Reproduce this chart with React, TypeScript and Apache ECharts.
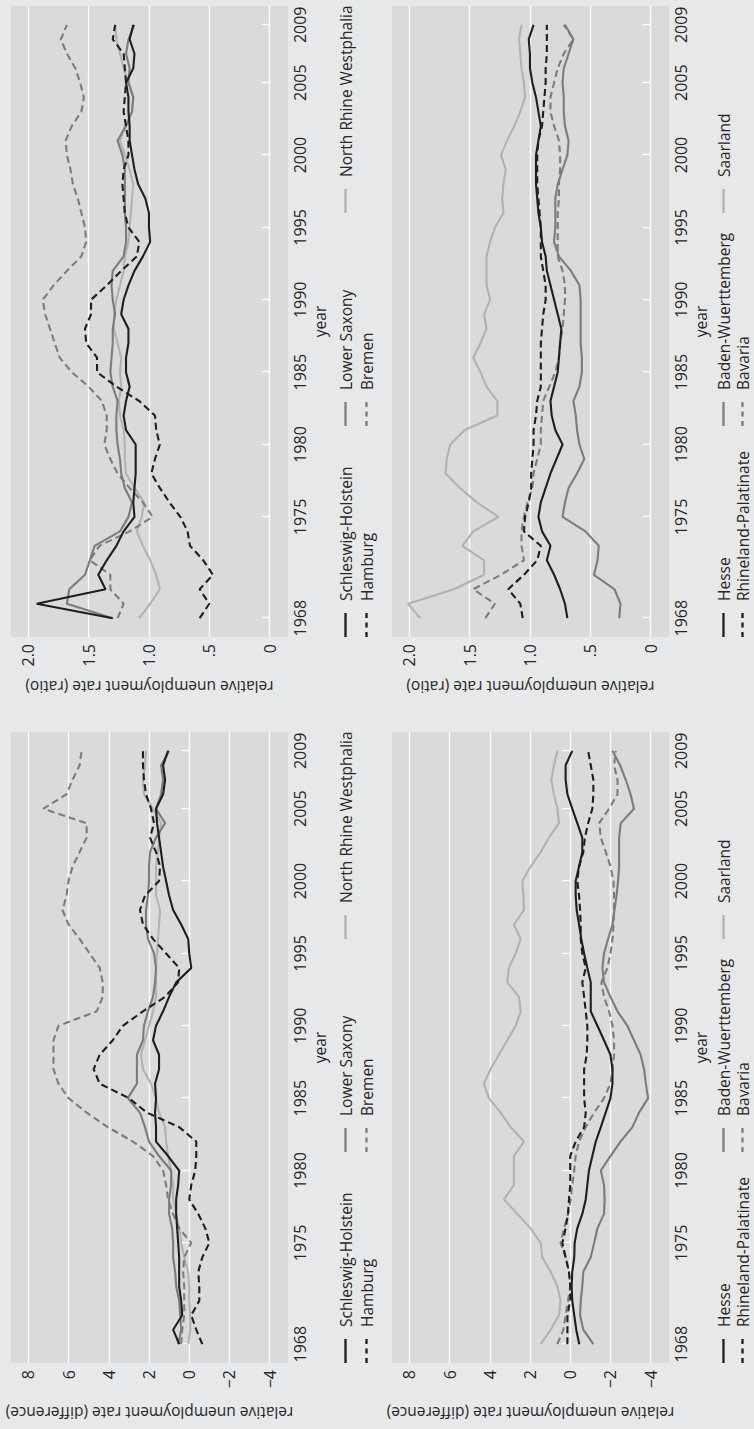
import React, { useEffect, useRef } from 'react';
import * as echarts from 'echarts';

const years = [1968, 1969, 1970, 1971, 1972, 1973, 1974, 1975, 1976, 1977, 1978, 1979, 1980, 1981, 1982, 1983, 1984, 1985, 1986, 1987, 1988, 1989, 1990, 1991, 1992, 1993, 1994, 1995, 1996, 1997, 1998, 1999, 2000, 2001, 2002, 2003, 2004, 2005, 2006, 2007, 2008, 2009];
const yearTicks = [1968, 1975, 1980, 1985, 1990, 1995, 2000, 2005, 2009];
const diffTicks = [-4, -2, 0, 2, 4, 6, 8];
const diffTickLabels = ['\u22124', '\u22122', '0', '2', '4', '6', '8'];
const ratioTicks = [0, 0.5, 1, 1.5, 2];
const ratioTickLabels = ['0', '.5', '1.0', '1.5', '2.0'];

const northStates = ['Schleswig-Holstein', 'Hamburg', 'Lower Saxony', 'Bremen', 'North Rhine Westphalia'];
const southStates = ['Hesse', 'Rhineland-Palatinate', 'Baden-Wuerttemberg', 'Bavaria', 'Saarland'];

// relative unemployment rate (difference), northern states
const shDiff = [0.5, 0.8, 0.35, 0.4, 0.5, 0.5, 0.5, 0.55, 0.6, 0.65, 0.65, 0.55, 0.5, 1.05, 1.65, 1.65, 1.7, 1.65, 1.7, 1.5, 1.5, 1.8, 1.65, 1.3, 1.0, 0.65, -0.1, 0.0, 0.05, 0.4, 0.8, 1.0, 1.15, 1.3, 1.4, 1.5, 1.6, 1.65, 1.3, 1.2, 1.3, 1.05];
const hhDiff = [-0.65, -0.35, -0.1, -0.5, -0.5, -0.45, -0.65, -1.0, -0.8, -0.45, 0.0, -0.1, -0.3, -0.35, -0.35, 0.5, 2.1, 3.0, 4.45, 4.75, 4.45, 3.8, 3.3, 2.3, 1.2, 0.55, 0.5, 1.15, 1.8, 2.3, 2.45, 2.2, 1.5, 1.45, 1.65, 1.95, 1.75, 1.9, 2.15, 2.25, 2.3, 2.3];
const lsDiff = [0.55, 0.4, 0.45, 0.5, 0.65, 0.7, 0.8, 0.8, 0.85, 1.0, 1.0, 0.9, 0.9, 1.5, 2.0, 2.2, 2.45, 3.05, 2.6, 2.6, 2.6, 2.3, 2.25, 2.05, 1.8, 1.7, 1.65, 1.75, 2.05, 2.15, 2.15, 2.05, 2.0, 2.0, 1.95, 1.65, 1.2, 1.65, 1.4, 1.3, 1.4, 1.0];
const hbDiff = [0.4, 0.35, 0.25, 0.25, 0.25, 0.3, 0.25, -0.1, 0.5, 0.8, 1.05, 1.15, 1.3, 1.8, 2.8, 4.05, 5.1, 6.0, 6.5, 6.75, 6.75, 6.75, 6.5, 4.6, 4.3, 4.3, 4.45, 4.95, 5.45, 6.0, 6.3, 6.1, 6.0, 5.8, 5.45, 5.1, 5.1, 7.25, 6.1, 5.8, 5.45, 5.35];
const nrwDiff = [0.05, -0.05, -0.05, 0.0, 0.0, 0.05, 0.25, 0.4, 0.5, 0.65, 0.8, 0.8, 0.9, 1.05, 1.15, 1.2, 1.5, 1.65, 1.9, 2.3, 2.4, 2.2, 2.0, 1.8, 1.65, 1.65, 1.65, 1.6, 1.55, 1.5, 1.45, 1.65, 1.65, 1.65, 1.55, 1.5, 1.4, 1.8, 2.25, 2.3, 2.2, 2.15];

// relative unemployment rate (ratio), northern states
const shRatio = [1.30, 1.93, 1.36, 1.42, 1.35, 1.27, 1.21, 1.12, 1.13, 1.12, 1.11, 1.11, 1.11, 1.19, 1.21, 1.19, 1.16, 1.19, 1.19, 1.17, 1.17, 1.23, 1.21, 1.17, 1.12, 1.05, 0.99, 1.0, 1.0, 1.03, 1.09, 1.12, 1.14, 1.16, 1.16, 1.17, 1.17, 1.19, 1.13, 1.12, 1.16, 1.13];
const hhRatio = [0.58, 0.50, 0.58, 0.47, 0.55, 0.66, 0.68, 0.74, 0.83, 0.91, 0.98, 0.95, 0.91, 0.94, 0.95, 1.08, 1.27, 1.43, 1.43, 1.52, 1.53, 1.48, 1.48, 1.35, 1.23, 1.10, 1.08, 1.17, 1.20, 1.21, 1.22, 1.21, 1.17, 1.17, 1.19, 1.21, 1.20, 1.19, 1.20, 1.21, 1.30, 1.28];
const lsRatio = [1.30, 1.68, 1.66, 1.53, 1.49, 1.45, 1.24, 1.17, 1.14, 1.20, 1.23, 1.24, 1.26, 1.27, 1.27, 1.26, 1.30, 1.32, 1.31, 1.30, 1.30, 1.28, 1.30, 1.31, 1.30, 1.21, 1.19, 1.19, 1.20, 1.20, 1.20, 1.20, 1.22, 1.26, 1.19, 1.14, 1.13, 1.17, 1.16, 1.19, 1.17, 1.12];
const hbRatio = [1.26, 1.21, 1.32, 1.32, 1.49, 1.41, 1.16, 0.97, 1.05, 1.16, 1.26, 1.32, 1.37, 1.35, 1.35, 1.39, 1.50, 1.64, 1.74, 1.78, 1.82, 1.86, 1.88, 1.79, 1.68, 1.56, 1.52, 1.53, 1.56, 1.59, 1.63, 1.65, 1.68, 1.69, 1.64, 1.56, 1.54, 1.57, 1.61, 1.68, 1.73, 1.68];
const nrwRatio = [1.08, 0.99, 0.91, 0.94, 0.99, 1.05, 1.10, 1.06, 1.04, 1.12, 1.19, 1.20, 1.20, 1.21, 1.24, 1.25, 1.23, 1.24, 1.23, 1.26, 1.29, 1.29, 1.27, 1.24, 1.21, 1.20, 1.17, 1.16, 1.15, 1.14, 1.13, 1.16, 1.20, 1.24, 1.20, 1.14, 1.13, 1.17, 1.21, 1.24, 1.27, 1.28];

// relative unemployment rate (difference), southern states
const heDiff = [-0.45, -0.3, -0.2, -0.1, -0.07, -0.1, -0.2, -0.22, -0.35, -0.6, -0.77, -0.85, -0.93, -1.1, -1.27, -1.52, -1.76, -2.0, -2.1, -2.1, -2.0, -1.68, -1.35, -1.02, -1.02, -1.02, -0.85, -0.69, -0.55, -0.44, -0.32, -0.27, -0.27, -0.44, -0.6, -0.6, -0.35, -0.1, 0.14, 0.23, 0.23, -0.1];
const rpDiff = [0.14, 0.14, 0.14, 0.0, 0.0, 0.06, 0.23, 0.39, 0.23, 0.11, 0.06, 0.0, 0.0, 0.0, -0.27, -0.69, -0.77, -0.69, -0.69, -0.69, -0.82, -0.85, -0.85, -0.77, -0.69, -0.6, -0.77, -0.6, -0.52, -0.52, -0.49, -0.44, -0.35, -0.44, -0.65, -0.73, -0.89, -1.1, -1.15, -1.15, -1.02, -0.89];
const bwDiff = [-1.15, -0.65, -0.49, -0.52, -0.6, -0.65, -1.02, -1.19, -1.35, -1.68, -1.71, -1.68, -1.52, -2.0, -2.5, -3.09, -3.42, -3.87, -3.76, -3.67, -3.5, -3.17, -2.84, -2.35, -2.0, -1.68, -1.6, -1.68, -1.88, -2.1, -2.2, -2.3, -2.38, -2.43, -2.43, -2.43, -2.51, -3.17, -3.0, -2.76, -2.48, -2.1];
const byDiff = [0.64, 0.34, 0.23, 0.11, 0.0, 0.06, 0.23, 0.48, 0.31, 0.11, -0.02, -0.1, -0.2, -0.27, -0.44, -0.77, -1.19, -1.68, -2.0, -2.1, -2.18, -2.18, -2.1, -1.93, -1.68, -1.55, -1.85, -2.0, -2.1, -2.15, -2.18, -2.18, -2.15, -2.0, -1.77, -1.52, -1.44, -1.93, -2.35, -2.35, -2.18, -2.26];
const slDiff = [1.47, 0.97, 0.56, 0.48, 0.64, 0.97, 1.39, 1.47, 1.97, 2.63, 3.29, 2.8, 2.8, 2.8, 2.3, 2.96, 3.46, 4.04, 4.3, 3.96, 3.55, 3.13, 2.71, 2.46, 2.55, 3.13, 3.05, 2.71, 2.46, 2.8, 2.3, 2.33, 2.38, 1.97, 1.47, 1.06, 0.56, 0.64, 0.81, 0.94, 0.81, 0.64];

// relative unemployment rate (ratio), southern states
const heRatio = [0.69, 0.71, 0.75, 0.80, 0.86, 0.83, 0.90, 0.93, 0.91, 0.87, 0.83, 0.78, 0.73, 0.79, 0.82, 0.83, 0.80, 0.77, 0.76, 0.75, 0.74, 0.77, 0.80, 0.83, 0.86, 0.87, 0.90, 0.91, 0.93, 0.94, 0.95, 0.95, 0.95, 0.93, 0.91, 0.93, 0.95, 0.98, 1.00, 1.00, 1.01, 0.97];
const rpRatio = [1.06, 1.08, 1.18, 1.05, 0.94, 0.91, 1.05, 1.04, 1.01, 0.99, 0.99, 0.98, 0.97, 0.97, 0.95, 0.94, 0.91, 0.91, 0.91, 0.91, 0.90, 0.89, 0.87, 0.87, 0.89, 0.91, 0.91, 0.91, 0.92, 0.93, 0.94, 0.94, 0.94, 0.93, 0.90, 0.89, 0.88, 0.87, 0.87, 0.86, 0.86, 0.86];
const bwRatio = [0.26, 0.25, 0.30, 0.47, 0.44, 0.43, 0.54, 0.73, 0.71, 0.68, 0.61, 0.55, 0.59, 0.61, 0.62, 0.64, 0.59, 0.57, 0.57, 0.58, 0.58, 0.58, 0.58, 0.59, 0.66, 0.76, 0.80, 0.79, 0.79, 0.79, 0.77, 0.73, 0.69, 0.68, 0.71, 0.72, 0.72, 0.73, 0.72, 0.68, 0.64, 0.71];
const byRatio = [1.37, 1.29, 1.47, 1.24, 1.05, 1.07, 1.07, 1.05, 1.02, 0.98, 0.97, 0.94, 0.91, 0.91, 0.90, 0.89, 0.84, 0.79, 0.76, 0.75, 0.73, 0.72, 0.71, 0.71, 0.73, 0.77, 0.77, 0.77, 0.77, 0.76, 0.76, 0.75, 0.75, 0.76, 0.80, 0.83, 0.83, 0.80, 0.77, 0.72, 0.64, 0.72];
const slRatio = [1.91, 2.01, 1.63, 1.38, 1.38, 1.56, 1.47, 1.26, 1.44, 1.58, 1.70, 1.69, 1.66, 1.54, 1.27, 1.27, 1.36, 1.41, 1.47, 1.41, 1.36, 1.38, 1.33, 1.36, 1.36, 1.36, 1.33, 1.29, 1.22, 1.23, 1.22, 1.20, 1.24, 1.19, 1.13, 1.08, 1.04, 1.05, 1.07, 1.08, 1.09, 1.07];

const FONT = '"Open Sans", "Noto Sans", sans-serif';
const TEXT_COLOR = '#262626';
const BLACK = '#1e1e1e';
const MID = '#7c7c7c';
const LIGHT = '#b2b2b2';

// styles of the five lines of each panel: [colour, dashed]
const lineStyles: [string, boolean][] = [
  [BLACK, false],
  [BLACK, true],
  [MID, false],
  [MID, true],
  [LIGHT, false],
];
// legend position of each line: [column, row]
const legendSlots: [number, number][] = [[0, 0], [0, 1], [1, 0], [1, 1], [2, 0]];

// layout, in the landscape frame that is rotated onto the page
const W = 1429;
const H = 754;
const PW = 631;
const PH = 277;
const panels = [
  { left: 66, top: 11, kind: 'diff', names: northStates, values: [shDiff, hhDiff, lsDiff, hbDiff, nrwDiff], legendRows: [345.5, 366.5] },
  { left: 792, top: 11, kind: 'ratio', names: northStates, values: [shRatio, hhRatio, lsRatio, hbRatio, nrwRatio], legendRows: [345.5, 366.5] },
  { left: 66, top: 392, kind: 'diff', names: southStates, values: [heDiff, rpDiff, bwDiff, byDiff, slDiff], legendRows: [723.5, 742.5] },
  { left: 792, top: 392, kind: 'ratio', names: southStates, values: [heRatio, rpRatio, bwRatio, byRatio, slRatio], legendRows: [723.5, 742.5] },
];

function labelFor(ticks: number[], labels: string[], v: number) {
  for (let i = 0; i < ticks.length; i++) if (Math.abs(ticks[i] - v) < 1e-6) return labels[i];
  return String(v);
}

export default function App() {
  const ref = useRef<HTMLDivElement>(null);

  useEffect(() => {
    if (!ref.current) return;
    const chart = echarts.init(ref.current, null, { renderer: 'svg', width: W, height: H });

    const grid = panels.map((p) => ({
      left: p.left,
      top: p.top,
      width: PW,
      height: PH,
      show: true,
      backgroundColor: '#d9dadb',
      borderWidth: 0,
      containLabel: false,
      outerBoundsMode: 'none',
    }));

    const xAxis = panels.map((p, i) => ({
      type: 'value',
      gridIndex: i,
      min: 1966.7,
      max: 2010.3,
      axisLine: { show: false },
      axisTick: { show: true, inside: true, length: 8, lineStyle: { color: '#ffffff', width: 1.3 }, customValues: yearTicks },
      axisLabel: {
        customValues: yearTicks,
        formatter: (v: number) => String(v),
        fontFamily: FONT,
        fontSize: 16,
        color: TEXT_COLOR,
        margin: 4,
      },
      splitLine: { show: false },
      name: 'year',
      nameLocation: 'middle',
      nameGap: 24,
      nameMoveOverlap: false,
      nameTextStyle: { fontFamily: FONT, fontSize: 15.5, color: TEXT_COLOR },
    }));

    const yAxis = panels.map((p, i) => {
      const isDiff = p.kind === 'diff';
      const ticks = isDiff ? diffTicks : ratioTicks;
      const labels = isDiff ? diffTickLabels : ratioTickLabels;
      return {
        type: 'value',
        gridIndex: i,
        min: isDiff ? -4.91 : -0.152,
        max: isDiff ? 8.86 : 2.143,
        axisLine: { show: false },
        axisTick: { show: false, customValues: ticks },
        axisLabel: {
          customValues: ticks,
          formatter: (v: number) => labelFor(ticks, labels, v),
          fontFamily: FONT,
          fontSize: 16,
          color: TEXT_COLOR,
          margin: 7,
        },
        splitLine: { show: true, lineStyle: { color: '#ffffff', width: 1.3 } },
        name: isDiff ? 'relative unemployment rate (difference)' : 'relative unemployment rate (ratio)',
        nameLocation: 'middle',
        nameGap: 42,
        nameMoveOverlap: false,
        nameTextStyle: { fontFamily: FONT, fontSize: 15.5, color: TEXT_COLOR },
      };
    });

    const series: any[] = [];
    panels.forEach((p, i) => {
      p.values.forEach((vals, k) => {
        const [color, dashed] = lineStyles[k];
        series.push({
          type: 'line',
          name: p.names[k],
          xAxisIndex: i,
          yAxisIndex: i,
          data: years.map((y, j) => [y, vals[j]]),
          showSymbol: false,
          symbol: 'none',
          clip: false,
          z: 2 + (4 - k),
          lineStyle: { color, width: 2.1, type: dashed ? [7, 4] : 'solid' },
        });
      });
    });

    const graphic: any[] = [];
    const colOffsets = [0, 211, 424];
    panels.forEach((p) => {
      p.names.forEach((name, k) => {
        const [col, row] = legendSlots[k];
        const [color, dashed] = lineStyles[k];
        const x0 = p.left + colOffsets[col];
        const y = p.legendRows[row];
        graphic.push({
          type: 'line',
          silent: true,
          shape: { x1: x0, y1: y, x2: x0 + 24, y2: y },
          style: { stroke: color, lineWidth: 2.3, lineDash: dashed ? [5, 4.5] : null },
        });
        graphic.push({
          type: 'text',
          silent: true,
          x: x0 + 36,
          y,
          style: {
            text: name,
            fill: TEXT_COLOR,
            fontFamily: FONT,
            fontSize: 15.5,
            align: 'left',
            verticalAlign: 'middle',
            textAlign: 'left',
            textVerticalAlign: 'middle',
          },
        });
      });
    });

    chart.setOption({
      animation: false,
      backgroundColor: '#e7e8e9',
      textStyle: { fontFamily: FONT },
      grid,
      xAxis,
      yAxis,
      series,
      graphic,
    });

    return () => {
      chart.dispose();
    };
  }, []);

  return (
    <div
      style={{
        position: 'absolute',
        left: 0,
        top: 0,
        width: 754,
        height: 1429,
        overflow: 'hidden',
        background: '#e7e8e9',
      }}
    >
      <div
        ref={ref}
        style={{
          position: 'absolute',
          left: 0,
          top: 0,
          width: W,
          height: H,
          transformOrigin: '0 0',
          transform: 'translate(0px, 1429px) rotate(-90deg)',
        }}
      />
    </div>
  );
}
